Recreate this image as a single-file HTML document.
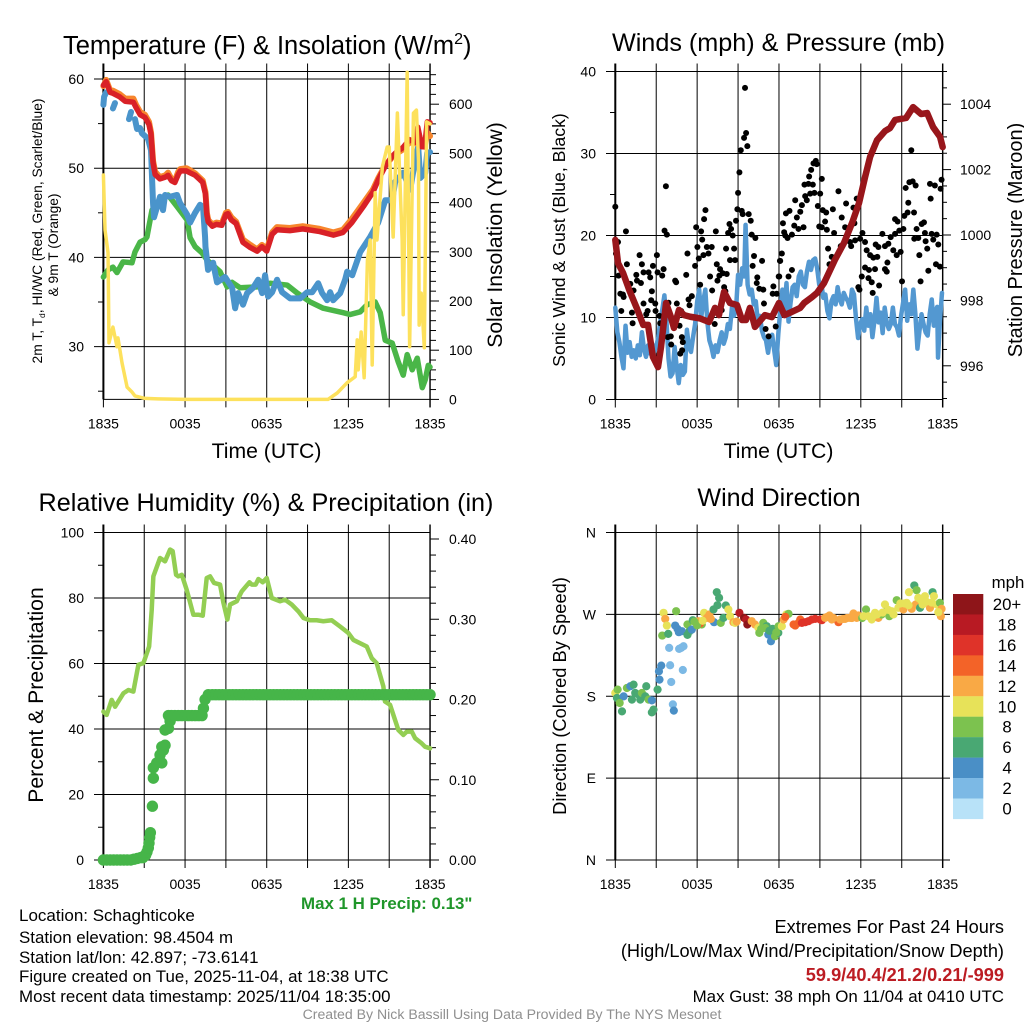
<!DOCTYPE html>
<html lang="en">
<head>
<meta charset="utf-8">
<title>Schaghticoke Mesonet Station Meteogram</title>
<style>
html,body{margin:0;padding:0;background:#fff;}
svg{display:block;}
text{font-family:"Liberation Sans",sans-serif;fill:#000;}
</style>
</head>
<body>
<svg id="chart" xmlns="http://www.w3.org/2000/svg" width="1024" height="1024" viewBox="0 0 1024 1024">
<rect width="1024" height="1024" fill="#fff"/>
<g id="marks"></g>

<text x="63" y="54" font-size="25.5">Temperature (F) &amp; Insolation (W/m<tspan font-size="16" dy="-10">2</tspan><tspan dy="10">)</tspan></text>
<text x="778.5" y="51" font-size="25.2" text-anchor="middle">Winds (mph) &amp; Pressure (mb)</text>
<text x="266" y="511" font-size="25.2" text-anchor="middle">Relative Humidity (%) &amp; Precipitation (in)</text>
<text x="779" y="506" font-size="25.1" text-anchor="middle">Wind Direction</text>

<text x="266.5" y="458" font-size="21.2" text-anchor="middle">Time (UTC)</text>
<text x="778.5" y="458" font-size="21.2" text-anchor="middle">Time (UTC)</text>

<text transform="translate(42,231) rotate(-90)" font-size="13.8" text-anchor="middle">2m T, T<tspan font-size="8.5" dy="3">d</tspan><tspan dy="-3">, HI/WC (Red, Green, Scarlet/Blue)</tspan></text>
<text transform="translate(58,245) rotate(-90)" font-size="13.8" text-anchor="middle">&amp; 9m T (Orange)</text>
<text transform="translate(502,235) rotate(-90)" font-size="21.1" text-anchor="middle">Solar Insolation (Yellow)</text>
<text transform="translate(565,240) rotate(-90)" font-size="17.7" text-anchor="middle">Sonic Wind &amp; Gust (Blue, Black)</text>
<text transform="translate(1022,240) rotate(-90)" font-size="20" text-anchor="middle">Station Pressure (Maroon)</text>
<text transform="translate(43,695) rotate(-90)" font-size="21.2" text-anchor="middle">Percent &amp; Precipitation</text>
<text transform="translate(566,696) rotate(-90)" font-size="18.3" text-anchor="middle">Direction (Colored By Speed)</text>

<text x="301" y="909" font-size="16.9" font-weight="bold" style="fill:#1f962a">Max 1 H Precip: 0.13"</text>
<text x="19" y="921" font-size="17">Location: Schaghticoke</text>
<text x="19" y="943" font-size="16.9">Station elevation: 98.4504 m</text>
<text x="19" y="963" font-size="16.9">Station lat/lon: 42.897; -73.6141</text>
<text x="19" y="982" font-size="16.9">Figure created on Tue, 2025-11-04, at 18:38 UTC</text>
<text x="19" y="1002" font-size="16.9">Most recent data timestamp: 2025/11/04 18:35:00</text>
<text x="1004" y="933" font-size="18.2" text-anchor="end">Extremes For Past 24 Hours</text>
<text x="1004" y="957" font-size="18.2" text-anchor="end">(High/Low/Max Wind/Precipitation/Snow Depth)</text>
<text x="1004" y="981" font-size="18.2" font-weight="bold" text-anchor="end" style="fill:#bc1c23">59.9/40.4/21.2/0.21/-999</text>
<text x="1004" y="1002" font-size="16.9" text-anchor="end">Max Gust: 38 mph On 11/04 at 0410 UTC</text>
<text x="512" y="1019" font-size="14.1" text-anchor="middle" style="fill:#8f8f8f">Created By Nick Bassill Using Data Provided By The NYS Mesonet</text>
</svg>
<script>
// ---- shared tick labels ----
const timeTickLabels = ["1835","0035","0635","1235","1835"];
const tempTicks = [60,50,40,30];
const tempMinorTicks = [55,45,35,25];
const insolationTicks = [600,500,400,300,200,100,0];
const windTicks = [40,30,20,10,0];
const pressureTicks = [1004,1002,1000,998,996];
const humidityTicks = [100,80,60,40,20,0];
const precipTicks = [0.40,0.30,0.20,0.10,0.00];
const directionTickLabels = ["N","E","S","W","N"];
const directionTickDegrees = [0,90,180,270,360];

// ---- temperature panel data ----
const tempHours = [0,.2,.5,.7,1.2,1.6,2.2,2.4,2.7,3.05,3.35,3.5,3.65,3.8,4.15,4.55,4.75,5,5.25,5.5,5.65,6.1,6.35,6.75,7.1,7.3,7.5,7.6,7.7,8,8.3,8.7,9,9.15,9.4,9.75,10.25,10.8,11.3,11.65,12,12.4,12.75,13.7,14.65,15.9,16.9,17.6,18.25,19.1,19.8,20.2,20.7,21.2,21.6,22,22.5,22.9,23.1,23.4,23.6,23.8,24];
const temp2mValues = [59.3,59.7,58.5,58.4,58,57.5,57.4,56.8,56,55.7,54.9,53.8,50.6,49.3,48.8,49,49.2,48.6,48.4,49.3,49.7,49.7,49.5,49.2,48.7,48.4,47.1,44.8,44,43.5,43.7,43.6,44.8,44.9,44.2,43.8,41.7,41.1,40.7,41.2,40.7,42.6,43.1,43,43.2,42.9,42.5,42.8,43.9,45.7,47.3,48.7,50.2,51.3,51.9,52.3,53.2,52.9,54.6,52.4,52.4,55.2,55.1];
const temp9mValues = [59.2,59.9,58.7,58.7,58.3,57.8,57.8,57.1,56.3,56,55.2,54,50.8,49.6,49,49.2,49.5,48.8,48.6,49.6,49.9,50,49.8,49.4,48.9,48.6,47.3,45,44.2,43.7,43.9,43.8,45,45.1,44.5,44,42,41.4,40.9,41.4,40.9,42.8,43.4,43.3,43.5,43.2,42.8,43.1,44.3,46.1,47.6,48.9,50.3,51.2,51.7,52.1,52.9,52.8,54.2,52.5,52.4,54,53.6];
const dewHours = [0,.34,.7,1,1.44,2.1,2.32,2.69,3.06,3.2,3.57,3.79,4.16,4.75,5.41,6.15,6.37,6.74,7.25,7.62,8.57,9.09,9.46,10.04,11.29,12.25,13.5,14.24,15.2,16.15,17.62,18.13,18.87,19.38,19.97,20.34,20.71,21.22,21.66,22.03,22.32,22.69,23.06,23.43,23.65,23.87,24];
const dewValues = [37.8,38.6,38.9,38.3,39.5,39.4,40.6,41.7,42,42.3,45.3,45.7,46.4,47,45.7,44.2,42.2,41.2,40.5,39.7,38.4,36.7,37.2,36.6,36.7,37.1,36.9,36,35,34.3,33.8,33.6,33.9,34.7,35,33.8,30.7,30.4,28.3,26.8,29.1,27.4,28.7,25.4,26.3,27.9,27.7];
const chillHours = [0,.05,.2,.21,.7,.85,.86,1.88,2.03,2.04,2.32,2.47,2.69,2.84,3.06,3.28,3.5,3.58,3.65,3.72,4.16,4.38,4.53,4.9,5.41,5.63,6.15,6.37,6.74,7.1,7.32,7.47,7.5,7.69,8.06,8.35,8.94,9.46,9.68,9.9,10.26,10.56,11,11.37,11.66,11.88,12.1,12.4,12.76,13.13,13.72,14.46,14.97,15.34,15.78,16.07,16.44,16.66,16.88,17.4,17.76,17.91,18.28,18.87,19.6,20.19,20.71,21.22,21.44,22.03,22.54,22.91,23.13,23.28,23.65,23.79,24];
const chillValues = [57.1,58,58.5,null,56.7,57.3,null,55.5,56.3,null,55.5,54.4,54.5,53.9,53.6,53.3,52,48.7,46,44.5,46.8,45.3,47,46.8,47,46.1,44.8,43.9,45,45.9,45.7,42.3,41.2,38.6,39.4,37.2,37.8,36.6,34.3,36,34.7,36,36.6,37.5,36,38,35.6,36.1,37.5,36.1,35.4,35.4,36.1,36.1,37.1,36,35.2,36.1,35.2,36,37.5,38.4,38,40.6,42.3,43.9,46.4,46.4,48.5,49.5,47.6,50.9,52.4,48.9,49.5,51.7,51.8];
const insolationHours = [0,.12,.34,.41,.7,1,1.07,1.37,1.74,2.1,2.32,3.06,4,6,9,12,15,16.5,17.18,17.91,18.5,18.65,18.72,18.94,19.16,19.4,19.6,19.75,19.97,20.1,20.5,20.85,21,21.29,21.6,21.95,22.03,22.32,22.5,22.78,23,23.15,23.2,23.35,23.58,23.75,24];
const insolationValues = [456,344,298,115,147,107,125,74,25,15,7,2,1,0,0,0,0,0,13,34,46,121,60,137,44,283,324,70,420,324,473,513,513,330,582,324,172,665,107,582,588,487,151,216,105,564,560];

// ---- winds panel data ----
const windHours = [0,.15,.3,.45,.6,.75,.9,1.05,1.2,1.35,1.5,1.65,1.8,1.95,2.1,2.25,2.4,2.55,2.7,2.85,3,3.15,3.3,3.45,3.6,3.75,3.9,4.05,4.2,4.35,4.5,4.65,4.8,4.95,5.1,5.25,5.4,5.55,5.7,5.85,6,6.15,6.3,6.45,6.6,6.75,6.9,7.05,7.2,7.35,7.5,7.65,7.8,7.95,8.1,8.25,8.4,8.55,8.7,8.85,9,9.15,9.3,9.45,9.55,9.7,9.85,10,10.15,10.3,10.45,10.6,10.75,10.9,11.05,11.2,11.35,11.5,11.65,11.8,11.95,12.1,12.25,12.4,12.55,12.7,12.85,13,13.15,13.3,13.45,13.6,13.75,13.9,14.05,14.2,14.35,14.5,14.65,14.8,14.95,15.1,15.25,15.4,15.55,15.7,15.85,16,16.15,16.3,16.45,16.6,16.75,16.9,17.05,17.2,17.35,17.5,17.65,17.8,17.95,18.1,18.25,18.4,18.55,18.7,18.85,19,19.15,19.3,19.45,19.6,19.75,19.9,20.05,20.2,20.35,20.5,20.65,20.8,20.95,21.1,21.25,21.4,21.55,21.7,21.85,22,22.15,22.3,22.45,22.6,22.75,22.9,23.05,23.2,23.35,23.5,23.6,23.66,23.8,23.95];
const windValues = [11.2,8.2,7,5.2,3.8,9,5.7,7,5.2,6,5,6.6,5.4,8.2,6.2,5.2,6.6,5.6,6.8,5.8,6.4,7.6,9.5,11,12.7,9.6,5,2.8,3.2,6.4,4,2,4.2,3,3.4,8.5,6.4,5.8,7.6,9.2,11.9,13.4,10,12,13.4,9.4,7.2,6.4,5.2,6.6,5.8,7.2,8.2,6.8,7.6,9.2,8.6,11.2,10.2,11,15.2,14,16,15,21.3,14,12.8,13.4,11.6,12,9.4,10.2,8.4,7.6,7.2,5.7,7.4,7.9,6,4.2,8,11,13.4,11,14.2,9.5,11.8,13.7,14,12.6,15,15.6,14,13.7,15.6,16.8,15.8,17,17.2,16,14,14.2,12.4,12.8,10.8,9.9,12,12.6,11.6,13.7,12.2,11.6,13,12.4,12,11.2,13.4,12.8,9.8,7.5,9.2,9.8,8.4,11.2,9,10.4,7.6,9.6,12.4,9.4,10.6,8.1,11.2,9.4,8.6,9.2,11.2,9.2,8.8,7.8,10.2,11.8,13.4,9.6,11.6,10.4,13.4,10.4,6.2,8.4,10.4,9.2,8.2,7.8,10.4,12.2,9,10.8,11.3,5.1,9.6,13];
const gustHours = [0,.2,.05,.78,.85,.24,.37,.56,.61,.44,1.1,1.34,1.54,1.59,1.88,1.78,1.95,2.07,2.44,2.56,2.76,3.05,3.1,3.54,3.44,3.61,3.78,3.71,2.68,2.63,2.93,2.07,2.37,2.27,2.95,1.22,1.27,3.24,3.29,3.9,4.51,4.83,4.39,4.46,5.2,5.29,5.85,5.93,6.02,6.12,6.29,6.37,6.46,6.61,6.51,6.71,6.83,7.07,6.95,7.37,7.44,7.68,7.49,7.63,7.88,8.17,8.12,8.27,8.37,8.49,8.61,8.71,8.41,8.78,8.85,8.95,9,9.1,9.2,9.44,9.59,9.68,9.51,9.27,9.34,9.78,9.93,10,10.27,10.17,10.07,10.76,10.41,10.37,10.56,10.85,11.59,11.54,11.83,10.9,11.02,11.24,11.76,11.98,12.07,6.22,5.37,5.61,5.44,3.85,4.1,4.07,4.71,4.88,4.95,4.76,4.9,7.1,7.29,7.98,8.07,7.8,12.02,12.29,12.38,12.46,12.63,12.95,13.12,13.43,13.8,12.51,12.77,13.19,13.31,13.56,13.68,13.92,13.87,14.16,14.48,14.04,14.29,14.6,14.21,14.36,14.53,14.7,14.77,15.14,15.02,14.85,15.21,15.46,14.95,15.38,15.14,15.51,15.95,16.36,16.6,16.92,17.46,17.7,16.85,17.53,16.04,15.6,15.7,16.12,15.87,16.53,16.85,17.29,17.21,17.58,17.95,18.12,18.31,18.43,18.68,18.92,19.21,19.09,19.29,19.58,19.77,20.02,20.19,20.38,20.51,20.63,20.92,20.82,21.12,20.51,20.7,21.19,21.43,21.48,21.9,21.29,21.56,21.8,22.02,21.7,23.07,23.43,23.92,23.12,23.85,22.09,21.92,22.21,22.46,22.63,22.7,22.75,22.87,22.29,23.19,23.56,23.31,23.68,23.51,23.8,22.95,22.38,21.02,19.95,19.77,19.9,19.34,19.04,18.6,18.31,18.07,17.82,17.9,18.56,18.8,18.87,12.95,12.7,12.09,12.21];
const gustValues = [23.5,19.2,17.8,20.5,16.5,15.1,12.9,12.8,12.5,10.8,14.1,13.3,15.2,14.5,14.2,17.6,16.5,15.5,15.5,14.9,16.3,17.6,15.5,15.9,15.1,20.6,20.1,26,13.2,12.1,11.7,11.7,10.8,10.4,10.8,10.6,9.3,10.2,9.3,11.8,11.7,10.8,14.5,14.3,15.2,17.8,16.3,21,18.6,17.2,20.5,19.5,17.6,23.1,22,18.6,17.8,18.6,15,20.5,16.5,15.9,14.5,15.1,15.4,15.3,18.4,20.3,21.4,20.8,20,18.4,17,17,21.8,23.2,25.2,27.7,30.4,31.9,32.5,30.9,38,23,22.6,22.6,21.8,20.1,19.7,17.5,16.3,16.9,14.9,14.2,13.5,13.4,13.8,12.9,12.9,11.7,8.6,7.7,8.9,15,16.9,14,12.2,12.6,11.5,7.6,6.7,7.7,9,7.6,7,5.6,6,13.3,9.2,13.7,13.2,10.9,15,21.5,20.4,20,19.7,20.1,21.2,20.8,21,22.7,23,24.3,22.2,22.9,23.7,24.8,26.2,26.3,26.2,24.3,25.1,25.2,27.2,28,28.8,29.1,28.7,26.9,25.1,23.6,23.1,22.8,21.1,21.7,21,20.7,23.2,25.4,22.2,23.9,23.4,24.5,21,21.5,20.3,18.4,16.5,17.1,17.4,18.7,19.4,18.7,19.2,19.4,19.6,20.3,19.2,18.2,17.6,17.3,17.4,18.9,18.6,20.2,18.7,19,19.8,18.2,20.2,17.6,18,20.6,20.8,22,21.7,22.4,22.8,24,22.8,25.8,26.5,26.6,26.1,30.4,26.3,26.1,26.8,24.5,25.7,20.8,19.6,19.7,21.4,21.6,20.3,19.3,18.4,17.6,20.2,20.1,19.5,18.9,16.5,16.2,15.7,14.4,14.4,16.7,15.9,15.6,13.9,15.9,15.8,16.1,15,13.7,13.4,14.8,14.3,13,15.8,15,16.9,17.8];
const pressureHours = [0,.2,.57,1.02,1.54,2.05,2.4,2.76,3.13,3.35,3.72,4.08,4.3,4.67,5.04,5.5,6.2,6.87,7.31,7.6,7.97,8.41,8.92,9.29,9.58,9.87,10.24,10.97,11.48,12,12.4,12.95,13.55,13.84,14.42,14.79,15.3,16.1,16.77,17.36,17.87,18.31,18.68,19.19,19.78,20.14,20.51,21.32,21.83,22.42,22.86,23.3,23.81,24];
const pressureValues = [999.85,999.14,998.84,998.32,997.8,997.25,997.25,996.27,995.96,996.57,997.92,997.49,997.16,997.71,997.55,997.5,997.45,997.34,997.77,997.55,998.26,997.92,997.86,997.4,997.4,997.77,997.19,997.55,997.49,997.92,997.55,997.65,997.77,997.92,998.1,998.23,998.53,999.24,999.76,1000.37,1000.98,1001.77,1002.39,1002.9,1003.18,1003.27,1003.52,1003.58,1003.91,1003.7,1003.73,1003.3,1003,1002.69];

// ---- humidity panel data ----
const humidityHours = [0,.24,.61,.86,1.47,1.84,2.2,2.57,2.94,3.36,3.55,3.67,4.16,4.53,4.9,5.09,5.34,5.51,5.76,6.12,6.61,6.98,7.3,7.59,7.84,8.13,8.57,8.82,9.11,9.31,9.8,10.16,10.73,10.9,11.19,11.39,11.71,12,12.37,12.98,13.35,13.84,14.33,14.7,15.18,15.67,16.16,16.78,17.39,18,18.37,19.35,19.72,20.08,20.57,20.69,21.06,21.67,22.04,22.29,22.66,22.9,23.39,23.63,24];
const humidityValues = [45.3,44.3,48.9,46.8,50.9,51.9,51.4,59.6,60.1,65.2,76.4,86.6,92.2,91.2,94.8,94.3,87.1,86.6,87.1,82.5,74.9,74.9,74.6,86.1,86.6,84.6,84.1,78.5,73.4,78,79,82,84.8,84.1,84.1,85.8,84.8,86.1,80,79,79.5,78,75.9,73.9,73.2,73.2,72.9,73.2,71.3,69.3,67.2,65.2,61.6,60.1,53,48.4,47.4,39.7,38.2,39.2,39.2,37.2,35.6,34.6,34.1];
const precipHours = [0,.25,.5,.75,1,1.25,1.5,1.75,2,2.25,2.5,2.75,2.9,3,3.1,3.2,3.3,3.35,3.4,3.45,3.6,3.67,3.67,3.92,4.29,4.16,4.29,4.41,4.53,4.53,4.78,4.9,4.78,5,5.25,5.5,5.75,6,6.25,6.5,6.75,7,7.25,7.35,7.47,7.71,8,8.25,8.5,8.75,9,9.25,9.5,9.75,10,10.25,10.5,10.75,11,11.25,11.5,11.75,12,12.25,12.5,12.75,13,13.25,13.5,13.75,14,14.25,14.5,14.75,15,15.25,15.5,15.75,16,16.25,16.5,16.75,17,17.25,17.5,17.75,18,18.25,18.5,18.75,19,19.25,19.5,19.75,20,20.25,20.5,20.75,21,21.25,21.5,21.75,22,22.25,22.5,22.75,23,23.25,23.5,23.75,24];
const precipValues = [0,0,0,0,0,0,0,0,0,.001,.002,.003,.003,.005,.006,.01,.015,.021,.028,.034,.067,.102,.115,.121,.121,.131,.141,.137,.143,.162,.164,.173,.18,.18,.18,.18,.18,.18,.18,.18,.18,.18,.18,.189,.2,.206,.206,.206,.206,.206,.206,.206,.206,.206,.206,.206,.206,.206,.206,.206,.206,.206,.206,.206,.206,.206,.206,.206,.206,.206,.206,.206,.206,.206,.206,.206,.206,.206,.206,.206,.206,.206,.206,.206,.206,.206,.206,.206,.206,.206,.206,.206,.206,.206,.206,.206,.206,.206,.206,.206,.206,.206,.206,.206,.206,.206,.206,.206,.206,.206,.206];

// ---- wind direction panel data ----
const directionHours = [0,.17,.12,.61,.32,.49,.85,1.1,1.34,1.22,1.46,1.71,1.83,1.95,2.27,2.2,2.44,2.68,2.8,2.68,3.1,3.24,3.2,3.37,4.02,4.1,4.22,4.29,4.95,3.95,4.68,4.83,5,3.44,3.88,3.54,3.66,3.78,4.46,4.39,4.56,4.66,4.88,5.29,5.29,5.44,5.61,5.68,5.98,6.1,6.34,6.22,6.51,6.71,6.9,7.2,7.44,7.61,7.49,7.24,7.73,7.93,8.1,8.29,8.41,8.66,8.78,9.1,9.44,9.59,9.68,10,10.24,10.49,10.56,10.85,11.1,11.22,11.41,11.54,11.71,11.95,11.97,12.21,12.53,12.7,12.34,12.46,13.07,13.19,13.43,13.56,13.68,13.92,14.16,14.41,14.65,15.02,15.14,15.38,15.7,15.87,16.36,16.48,16.85,17.21,17.46,17.7,17.82,18.38,18.56,18.8,19.04,19.29,19.53,19.77,19.9,20.09,20.26,20.63,20.75,21.12,21.36,21.73,22.02,21.92,21.53,22.09,22.21,22.34,22.53,22.7,23.07,23.26,23.36,23.56,23.8,23.92,23.87,23.68,5.8,6,6.4,7,8.9,10.7,11,11.3,11.8,15.5,16,16.7,17,17.35,18.1,18.2,18.9,19.2,19.6,20,20.4,20.9,21.2,21.5,22.4,22.8,23.2];
const directionDegrees = [183.6,187.3,178.1,179.9,172.6,163.4,189.1,191,192.8,176.3,183.6,181.8,176.3,183.6,191,179.9,176.3,175.5,165.3,162.3,187.3,198.3,207.5,213.7,214.1,195.7,171.1,164.2,208.9,233.2,232.1,233.2,235,246.7,248.6,271.7,265.1,257.7,273.5,257.7,254.1,250.4,251.5,258.9,247.5,251.5,253.3,263.6,260.7,262.5,258.9,260,271.7,266.2,269.9,275.4,294.4,288.2,280.1,261.4,260.7,266.2,279.8,275.4,268,261.4,260.7,271.7,266.2,264.4,258.9,262.5,258.9,255.2,249.7,260.7,257,247.8,240.5,254.1,246,249.7,257,257,269.9,270.6,264.4,267.3,258.9,257.7,260.7,264.4,260.7,261.4,262.5,264.4,265.1,264.4,263.6,266.2,268.8,264.4,261.4,264.4,265.1,266.2,271,266.2,268.8,275.4,268,264.4,271.7,266.2,269.9,280.9,273.5,268,273.5,285.6,277.2,275.4,282.7,276.1,280.9,301.8,294.4,296.6,288.2,277.2,280.9,290,277.2,294.4,290,280.9,282.7,276.1,268,272.4,262,258,263,265,262,254,255,252,250,267,266,265,266,266,266,268,268,270,272,275,270,282,282,280,286,284,283];
const directionSpeeds = [10,8,6,4,8,6,8,4,6,6,6,6,6,8,6,6,8,4,6,6,6,4,4,4,2,2,2,4,2,2,2,2,2,8,6,10,12,10,8,4,4,4,4,8,6,6,4,6,12,12,8,14,10,12,12,6,6,6,6,4,8,6,6,10,10,12,10,18,20,18,20,12,12,10,8,8,6,4,4,6,8,6,8,10,10,8,12,14,14,14,14,14,16,16,16,16,16,16,16,12,12,12,14,12,12,12,12,12,12,8,10,10,10,12,8,10,8,8,10,8,10,12,10,12,12,6,10,8,10,6,10,10,12,6,10,10,8,12,12,10,8,8,10,12,12,8,8,6,8,12,12,12,12,12,8,10,10,10,10,10,10,10,10,10,10,10,10];
const speedBinLabels = ["20+","18","16","14","12","10","8","6","4","2","0"];
const speedBinColors = ["#8e1519","#b81a23","#df3329","#f36328","#f9a945","#e7e259","#7cc24f","#49a873","#4a8fc6","#7cb9e5","#b8e2f8"];

// ---- axis functions ----
const xLeft = h => 103.4 + h * 13.61;
const xRight = h => 615.3 + h * 13.64;
const yTemp = v => 79 + (60 - v) * 8.92;
const yInsolation = v => 399.4 - v * 0.492;
const yWind = v => 399.5 - v * 8.2;
const yPressure = v => 235 - (v - 1000) * 32.7;
const yHumidity = v => 860 - v * 3.275;
const yPrecip = v => 860 - v * 802.5;
const yDirection = v => 860 - v * 0.9097;

const NS = "http://www.w3.org/2000/svg";
const marks = document.getElementById("marks");
function make(tag, attrs, parent) {
  const n = document.createElementNS(NS, tag);
  for (const k in attrs) n.setAttribute(k, attrs[k]);
  (parent || marks).appendChild(n);
  return n;
}
function tick(x1, y1, x2, y2, w, color) {
  const t = make("line", {x1: x1, y1: y1, x2: x2, y2: y2, stroke: color || "#000", "stroke-width": w || 1});
  
  
  return t;
}
function tickText(str, x, y, anchor) {
  const t = make("text", {x: x, y: y, "font-size": 14, "text-anchor": anchor});
  t.textContent = str;
  
  
  return t;
}
function frame(xf, top, bottom) {
  const left = xf(0), right = xf(24);
  for (let h = 0; h <= 24; h += 3) {
    tick(xf(h), top - 8, xf(h), bottom + 8, 1);
  }
  timeTickLabels.forEach((s, i) => tickText(s, xf(i * 6), bottom + 29, "middle"));
  tick(left, top - 8, left, bottom, 2);
  tick(right, top - 8, right, bottom + 8, 1.4);
  tick(left, top, right, top, 1);
  tick(left, bottom, right, bottom, 1);
}
function path(hours, vals, xf, yf, color, width) {
  let d = "", pen = false;
  hours.forEach((h, i) => {
    const v = vals[i];
    if (v === null) { pen = false; return; }
    d += (pen ? "L" : "M") + xf(h).toFixed(2) + " " + yf(v).toFixed(2);
    pen = true;
  });
  return make("path", {d: d, fill: "none", stroke: color, "stroke-width": width, "stroke-linejoin": "round", "stroke-linecap": "round"});
}

// ---- temperature & insolation panel ----
tempTicks.forEach(v => {
  tick(94, yTemp(v), xLeft(24), yTemp(v), 1);
  tickText(v, 84, yTemp(v) + 5, "end");
});
tempMinorTicks.forEach(v => tick(98, yTemp(v), xLeft(0), yTemp(v), 1));
insolationTicks.forEach(v => {
  tick(xLeft(24), yInsolation(v), 439, yInsolation(v), 1);
  tickText(v, 449, yInsolation(v) + 5, "start");
});
for (let v = 20; v <= 660; v += 20) {
  if (v % 100) tick(xLeft(24), yInsolation(v), 436, yInsolation(v), 1);
}
frame(xLeft, 71.5, 399.4);
const dewLine = path(dewHours, dewValues, xLeft, yTemp, "#4ab648", 5.5);


const chillLine = path(chillHours, chillValues, xLeft, yTemp, "#4a94cb", 6);


const temp9mLine = path(tempHours, temp9mValues, xLeft, yTemp, "#f7862d", 6);


const temp2mLine = path(tempHours, temp2mValues, xLeft, yTemp, "#d92127", 5.5);


const insolationLine = path(insolationHours, insolationValues, xLeft, yInsolation, "#fde15c", 3.5);



// ---- winds & pressure panel ----
windTicks.forEach(v => {
  tick(606, yWind(v), xRight(24), yWind(v), 1);
  tickText(v, 596, yWind(v) + 5, "end");
});
for (let v = 5; v < 40; v += 10) tick(610, yWind(v), xRight(0), yWind(v), 1);
pressureTicks.forEach(v => {
  tick(xRight(24), yPressure(v), 951, yPressure(v), 1);
  tickText(v, 960, yPressure(v) + 5, "start");
});
for (let v = 995; v <= 1005; v += 0.5) {
  if (v % 2 !== 0) tick(xRight(24), yPressure(v), 947, yPressure(v), 1);
}
frame(xRight, 71.5, 399.5);
const windLine = path(windHours, windValues, xRight, yWind, "#5398d1", 4.5);


gustHours.forEach((h, i) => {
  const dot = make("circle", {cx: xRight(h), cy: yWind(gustValues[i]), r: 3, fill: "#000"});
  
  
});
const pressureLine = path(pressureHours, pressureValues, xRight, yPressure, "#98161b", 6.5);



// ---- humidity & precipitation panel ----
humidityTicks.forEach(v => {
  tick(94, yHumidity(v), xLeft(24), yHumidity(v), 1);
  tickText(v, 84, yHumidity(v) + 5, "end");
});
for (let v = 10; v < 100; v += 20) tick(98, yHumidity(v), xLeft(0), yHumidity(v), 1);
precipTicks.forEach(v => {
  tick(xLeft(24), yPrecip(v), 439, yPrecip(v), 1);
  tickText(v.toFixed(2), 449, yPrecip(v) + 5, "start");
});
for (let k = 1; k <= 20; k++) {
  if (k % 5) tick(xLeft(24), yPrecip(k * 0.02), 436, yPrecip(k * 0.02), 1);
}
frame(xLeft, 532.5, 860);
const humidityLine = path(humidityHours, humidityValues, xLeft, yHumidity, "#93ce53", 4.5);


precipHours.forEach((h, i) => {
  const dot = make("circle", {cx: xLeft(h), cy: yPrecip(precipValues[i]), r: 5.7, fill: "#46b549"});
  
  
});

// ---- wind direction panel ----
directionTickDegrees.forEach((v, i) => {
  tick(606, yDirection(v), 950, yDirection(v), 1);
  tickText(directionTickLabels[i], 596, yDirection(v) + 5, "end");
});
frame(xRight, 532.5, 860);
function speedColor(s) {
  const bin = Math.min(20, Math.max(0, s));
  return speedBinColors[10 - Math.round(bin / 2)];
}
directionHours.forEach((h, i) => {
  const dot = make("circle", {cx: xRight(h), cy: yDirection(directionDegrees[i]), r: 4.1, fill: speedColor(directionSpeeds[i])});
  
  
});

// ---- colour bar ----
speedBinLabels.forEach((s, i) => {
  const box = make("rect", {x: 953, y: 594 + i * 20.45, width: 30.3, height: 20.6, fill: speedBinColors[i]});
  
  
  const t = make("text", {x: 1007, y: 610 + i * 20.45, "font-size": 16.8, "text-anchor": "middle"});
  t.textContent = s;
  
  
});
const unitLabel = make("text", {x: 1008, y: 588, "font-size": 16.8, "text-anchor": "middle"});
unitLabel.textContent = "mph";


</script>
</body>
</html>
